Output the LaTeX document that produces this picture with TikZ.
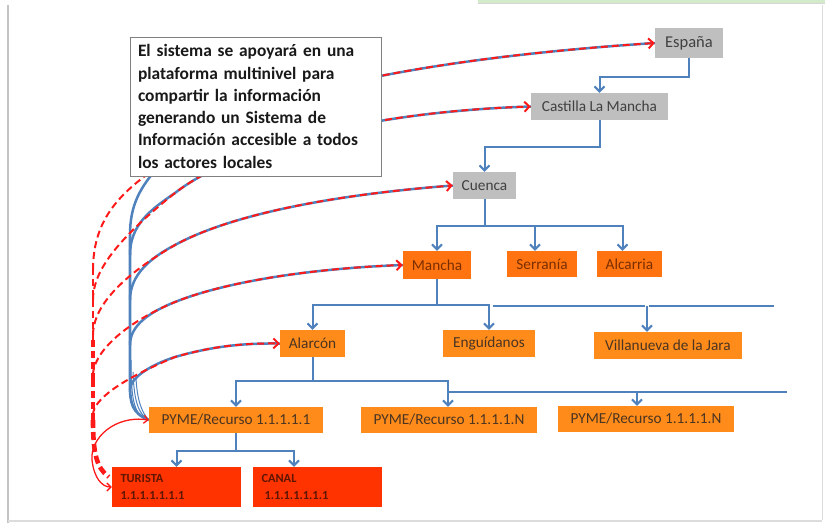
\documentclass[tikz,border=0pt]{standalone}
\usepackage{fontspec}
\setmainfont{Carlito}
\usetikzlibrary{arrows.meta,calc}
\pgfdeclarelayer{bg}
\pgfsetlayers{bg,main}
\definecolor{lnblue}{HTML}{4F81BD}
\definecolor{boxgray}{HTML}{BFBFBF}
\definecolor{txtgray}{HTML}{404040}
\definecolor{orA}{HTML}{FF7410}
\definecolor{orB}{HTML}{FF8C1A}
\definecolor{redbox}{HTML}{FF3300}
\definecolor{redtxt}{HTML}{5E1600}
\definecolor{orAtxt}{HTML}{7A2E00}
\definecolor{orBtxt}{HTML}{4A3422}
\definecolor{dred}{HTML}{FF1A1A}
\definecolor{framegray}{HTML}{C4C4C4}
\definecolor{stripgreen}{HTML}{D4EBCB}
\definecolor{tbgray}{HTML}{808080}
\begin{document}
\begin{tikzpicture}[x=1pt,y=-1pt,
  lvl/.style={inner sep=0pt, font=\fontsize{15.3}{18}\selectfont},
  gbox/.style={lvl, fill=boxgray, text=txtgray},
  oboxA/.style={lvl, fill=orA, text=orAtxt},
  oboxB/.style={lvl, fill=orB, text=orBtxt},
  rbox/.style={inner xsep=8.5pt, inner ysep=3pt, fill=redbox, text=redtxt,
    font=\bfseries\fontsize{12.4}{17.5}\selectfont, align=left, text width=112pt,
    minimum width=129pt, minimum height=40pt},
  tree/.style={draw=lnblue, line width=2pt},
  treearr/.style={tree, -{Straight Barb[length=5pt,width=10pt]}},
  bluecurve/.style={draw=lnblue, line width=2.5pt},
  redcurve/.style={draw=dred, line width=2pt, dash pattern=on 7pt off 4pt,
    -{Straight Barb[length=5pt,width=10pt]}},
  reddash/.style={draw=dred, dash pattern=on 7pt off 4pt},
]
\useasboundingbox (0,0) rectangle (825,523);
% frame of the screenshot
\fill[stripgreen] (478,0) rectangle (825,3);
\draw[framegray!70, line width=0.8pt] (478,3.6) -- (825,3.6);
\draw[framegray, line width=2pt] (8,5) -- (8,523);
\draw[framegray!60, line width=1pt] (822.5,5) -- (822.5,520);
\draw[framegray!60, line width=1.5pt] (8,521) -- (822,521);

% nodes
\node[draw=tbgray, line width=1pt, fill=white, inner sep=0pt,
      minimum width=251pt, minimum height=139pt, text width=235pt, align=left,
      font=\bfseries\fontsize{17.4}{22.3}\selectfont, text=black!90] (info) at (255.5,106.5)
  {El sistema se apoyará en una\\plataforma multinivel para\\compartir la información\\generando un Sistema de\\Información accesible a todos\\los actores locales};
\node[gbox, minimum width=68pt, minimum height=30pt, font=\fontsize{16.5}{18}\selectfont] (espana) at (689,43) {España};
\node[gbox, minimum width=137pt, minimum height=27pt] (castilla) at (599.5,106.5) {Castilla La Mancha};
\node[gbox, minimum width=63pt, minimum height=27pt] (cuenca) at (484.5,185.5) {Cuenca};
\node[oboxA, minimum width=68pt, minimum height=28pt] (mancha) at (437,265) {Mancha};
\node[oboxA, minimum width=70pt, minimum height=26pt] (serrania) at (542,264) {Serranía};
\node[oboxA, minimum width=65pt, minimum height=26pt] (alcarria) at (629.5,264) {Alcarria};
\node[oboxB, minimum width=92pt, minimum height=27pt] (enguidanos) at (489,343.5) {Enguídanos};
\node[oboxB, minimum width=148pt, minimum height=27pt] (villanueva) at (668,345.5) {Villanueva de la Jara};
\node[oboxB, minimum width=65pt, minimum height=27pt] (alarcon) at (312.5,343.5) {Alarcón};
\node[oboxB, minimum width=174pt, minimum height=26pt] (pyme1) at (236,420) {PYME/Recurso 1.1.1.1.1};
\node[oboxB, minimum width=176pt, minimum height=26pt] (pymeN1) at (449,420) {PYME/Recurso 1.1.1.1.N};
\node[oboxB, minimum width=176pt, minimum height=26pt] (pymeN2) at (646,419) {PYME/Recurso 1.1.1.1.N};
\node[rbox] (turista) at (176.5,487) {TURISTA\\1.1.1.1.1.1.1};
\node[rbox] (canal) at (317.5,487) {CANAL\\\hspace*{3pt}1.1.1.1.1.1.1};

% coordinates for the curved links
\coordinate (tE) at (130,235);
\coordinate (tC) at (130,255);
\coordinate (tQ) at (130,300);
\coordinate (tM) at (130,345);
\coordinate (tA) at (130,390);
\coordinate (tB) at (130,385);
\coordinate (dE) at (160,165);
\coordinate (dC) at (175,193);
\coordinate (dQ) at (175,245);
\coordinate (dM) at (175,302);
\coordinate (dA) at (175,357);
\coordinate (rE) at (93,270);
\coordinate (rC) at (93,300);
\coordinate (rQ) at (93,335);
\coordinate (rM) at (93,375);
\coordinate (rA) at (93,415);
\coordinate (v0) at (93,268);
\coordinate (v1) at (93,300);
\coordinate (v2) at (93,340);
\coordinate (v3) at (93,380);
\coordinate (v4) at (93,420);
\coordinate (rturi) at ($(turista.west)+(-3,-10)$);

\begin{pgfonlayer}{bg}
  % blue trunk
  \draw[draw=lnblue, line width=2.8pt] (pyme1.west) .. controls (132,413) and (130,403) .. (tB) -- (tE);
  \draw[draw=lnblue, line width=1pt] (pyme1.west) .. controls (138,414) and (134,400) .. (133,372);
  \draw[draw=lnblue, line width=1pt] (pyme1.west) .. controls (141,412) and (137,398) .. (136,378);
  \draw[draw=lnblue, line width=1pt] (pyme1.west) .. controls (135,416) and (131,404) .. (131,360);
  % blue curves
  \draw[bluecurve] (tE) .. controls (130,205) and (140,187) .. (dE) .. controls (220,100) and (400,60) .. (espana.west);
  \draw[bluecurve] (tC) .. controls (130,225) and (150,210) .. (dC) .. controls (230,150) and (360,112) .. (castilla.west);
  \draw[bluecurve] (tQ) .. controls (130,275) and (150,258) .. (dQ) .. controls (230,215) and (330,195) .. (cuenca.west);
  \draw[bluecurve] (tM) .. controls (130,325) and (150,312) .. (dM) .. controls (230,280) and (320,268) .. (mancha.west);
  \draw[bluecurve] (tA) .. controls (130,378) and (150,365) .. (dA) .. controls (210,347) and (240,343) .. (alarcon.west);
  % red dashed curves
  \draw[redcurve] (rE) .. controls (93,215) and (125,190) .. (dE) .. controls (220,100) and (400,60) .. (espana.west);
  \draw[redcurve] (rC) .. controls (93,275) and (110,245) .. (dC) .. controls (230,150) and (360,112) .. (castilla.west);
  \draw[redcurve] (rQ) .. controls (93,310) and (115,280) .. (dQ) .. controls (230,215) and (330,195) .. (cuenca.west);
  \draw[redcurve] (rM) .. controls (93,355) and (120,325) .. (dM) .. controls (230,280) and (320,268) .. (mancha.west);
  \draw[redcurve] (rA) .. controls (93,400) and (120,380) .. (dA) .. controls (210,347) and (240,343) .. (alarcon.west);
  % common red dashed descent to TURISTA
  \draw[reddash, line width=2.2pt] (v0) -- (v1);
  \draw[reddash, line width=2.8pt] (v1) -- (v2);
  \draw[reddash, line width=3.4pt] (v2) -- (v3);
  \draw[reddash, line width=4pt] (v3) -- (v4);
  \draw[reddash, line width=4.6pt, dash pattern=on 8pt off 4pt] (v4) .. controls (93,455) and (97,468) .. (rturi);
  % red solid link PYME - TURISTA
  \draw[draw=dred, line width=1.3pt, {Straight Barb[length=4pt,width=8pt]}-{Straight Barb[length=4pt,width=8pt]}]
    (pyme1.west) .. controls (115,415) and (90,438) .. (92,460) .. controls (94,478) and (102,487) .. (turista.west);
\end{pgfonlayer}

% tree connectors
\draw[treearr] (espana.south) -- ++(0,19) -| (castilla.north);
\draw[treearr] (castilla.south) -- ++(0,27) -| (cuenca.north);
\coordinate (cq) at ($(cuenca.south)+(0,27)$);
\draw[tree] (cuenca.south) -- (cq);
\draw[treearr] (cq) -| (mancha.north);
\draw[treearr] (cq) -| ($(serrania.north)+(-7,0)$);
\draw[treearr] (cq) -| ($(alcarria.north)+(-7,0)$);
\coordinate (mq) at ($(mancha.south)+(0,26)$);
\draw[tree] (mancha.south) -- (mq);
\draw[treearr] (mq) -| (alarcon.north);
\draw[treearr] (mq) -| (enguidanos.north);
\coordinate (l1a) at (493,306);
\coordinate (l1b) at (645,306);
\coordinate (l2a) at (649,306);
\coordinate (l2b) at (774,306);
\coordinate (l2v) at (647,306);
\draw[tree] (l1a) -- (l1b);
\draw[tree] (l2a) -- (l2b);
\draw[treearr] (l2v) -- ($(villanueva.north)+(-21,0)$);
\coordinate (aq) at ($(alarcon.south)+(0,24)$);
\draw[tree] (alarcon.south) -- (aq);
\draw[treearr] (aq) -| (pyme1.north);
\draw[treearr] (aq) -| ($(pymeN1.north)+(-1,0)$);
\coordinate (l3a) at (448,392);
\coordinate (l3b) at (787,392);
\coordinate (l3v) at (637,392);
\draw[tree] (l3a) -- (l3b);
\draw[treearr] (l3v) -- ($(pymeN2.north)+(-9,0)$);
\coordinate (pq) at ($(pyme1.south)+(0,18)$);
\draw[tree] (pyme1.south) -- (pq);
\draw[treearr] (pq) -| (turista.north);
\draw[treearr] (pq) -| ($(canal.north)+(-23.5,0)$);
\end{tikzpicture}
\end{document}
